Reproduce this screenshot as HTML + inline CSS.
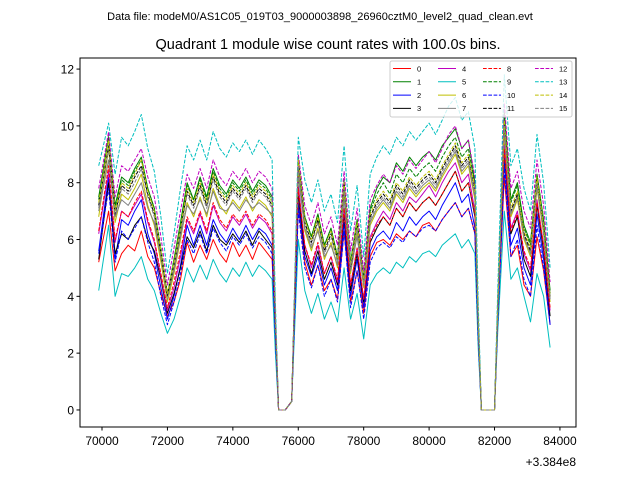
<!DOCTYPE html>
<html><head><meta charset="utf-8"><style>
html,body{margin:0;padding:0;background:#fff;}
svg{display:block;font-family:"Liberation Sans","DejaVu Sans",sans-serif;}
</style></head><body>
<svg id="chart" width="640" height="480" viewBox="0 0 640 480">
<rect width="640" height="480" fill="#fff"/>
<text x="320" y="20" font-size="11" text-anchor="middle">Data file: modeM0/AS1C05_019T03_9000003898_26960cztM0_level2_quad_clean.evt</text>
<text x="328" y="49" font-size="14.5" text-anchor="middle">Quadrant 1 module wise count rates with 100.0s bins.</text>
<g id="plot"></g>
<g id="axes"></g>
<g id="legend"></g>
</svg>
<script>
const times=[69900,70200,70400,70600,70800,71000,71200,71400,71600,71800,72000,72200,72400,72600,72800,73000,73200,73400,73600,73800,74000,74200,74400,74600,74800,75000,75200,75300,75400,75600,75800,76000,76200,76400,76600,76800,77000,77200,77400,77600,77800,78000,78200,78400,78600,78800,79000,79200,79400,79600,79800,80000,80200,80400,80600,80800,81000,81200,81400,81500,81600,81800,82000,82100,82300,82500,82700,82900,83100,83300,83500,83700];
const s0=[5.2,7.0,4.9,5.5,5.8,5.6,6.3,5.4,5.0,4.1,3.3,3.8,4.6,5.9,5.2,5.8,5.3,6.0,5.5,5.2,5.9,5.4,5.8,5.3,5.9,5.6,5.3,2.5,0,0,0.3,7.2,5.2,4.4,5.1,4.2,4.6,3.9,6.3,3.8,4.9,3.4,5.4,5.9,6.0,5.8,6.2,6.0,6.3,6.1,6.5,6.6,6.3,6.7,7.0,7.3,6.8,7.1,6.2,2.5,0,0,0,3.2,8.2,5.4,5.8,4.4,4.0,6.1,4.9,3.0];
const s1=[7.5,9.6,7.2,8.2,8.0,8.5,8.9,7.8,7.1,5.6,4.0,5.3,6.6,8.0,7.4,8.2,7.5,8.5,7.9,7.6,8.1,7.8,8.2,7.7,8.1,7.9,7.5,3.2,0,0,0.3,8.8,6.8,6.1,6.9,5.8,6.4,5.4,8.0,5.2,6.7,4.6,7.1,7.8,8.2,8.0,8.7,8.4,8.9,8.6,8.9,9.1,8.8,9.3,9.6,9.9,9.2,9.5,8.0,3.2,0,0,0,3.8,10.5,7.4,8.0,6.5,5.9,8.3,6.7,4.2];
const s2=[5.6,8.2,5.3,6.7,6.5,7.0,7.4,6.2,5.5,4.3,3.2,4.0,5.1,6.5,5.8,6.5,5.8,6.7,6.2,5.9,6.4,6.0,6.5,6.0,6.4,6.2,5.8,2.7,0,0,0.3,7.3,5.4,4.7,5.4,4.4,5.0,4.2,6.6,4.0,5.3,3.6,5.6,6.1,6.3,6.0,6.6,6.3,6.8,6.5,6.8,7.0,6.7,7.2,7.6,8.0,7.3,7.6,6.4,2.7,0,0,0,3.3,8.8,5.8,6.4,5.0,4.4,6.9,5.3,3.0];
const s3=[5.3,8.0,5.5,6.2,6.0,6.5,6.8,6.0,5.6,4.6,3.4,4.1,5.0,6.1,5.7,6.3,5.6,6.5,6.0,5.8,6.2,5.9,6.3,5.8,6.3,6.0,5.7,2.7,0,0,0.3,7.6,5.6,4.8,5.6,4.6,5.2,4.4,6.9,4.2,5.5,3.8,5.9,6.4,6.8,6.5,7.1,6.8,7.3,7.0,7.3,7.5,7.2,7.6,8.0,8.4,7.7,8.0,6.8,2.8,0,0,0,3.4,9.2,6.2,6.8,5.3,4.7,7.2,5.6,3.3];
const s4=[6.2,8.4,5.9,7.0,6.8,7.2,7.6,6.6,5.9,4.7,3.5,4.3,5.4,6.7,6.2,6.9,6.2,7.2,6.6,6.3,6.8,6.5,6.9,6.4,6.8,6.6,6.2,2.8,0,0,0.3,7.9,5.8,5.0,5.8,4.8,5.4,4.5,7.1,4.4,5.7,3.9,6.1,6.6,7.0,6.7,7.3,7.0,7.5,7.3,7.6,7.9,7.5,8.0,8.4,8.7,8.0,8.3,7.0,2.9,0,0,0,3.4,9.4,6.4,7.0,5.5,4.9,7.4,5.8,3.5];
const s5=[4.2,6.5,4.0,4.8,4.7,5.0,5.4,4.6,4.2,3.4,2.7,3.2,4.0,5.0,4.5,5.1,4.6,5.3,4.8,4.5,5.0,4.7,5.2,4.7,5.1,4.9,4.6,2.0,0,0,0.3,6.0,4.2,3.4,4.1,3.2,3.8,3.1,5.0,3.2,4.1,2.5,4.4,4.8,5.0,4.8,5.2,5.0,5.4,5.2,5.5,5.6,5.4,5.8,6.0,6.2,5.7,6.0,5.5,2.2,0,0,0,2.8,7.0,4.6,5.0,4.0,3.1,4.8,4.0,2.2];
const s6=[6.8,9.2,6.6,7.6,7.4,7.8,8.3,7.2,6.5,5.2,3.8,4.8,6.0,7.3,6.8,7.5,6.8,7.8,7.2,6.9,7.4,7.1,7.5,7.0,7.4,7.2,6.8,3.0,0,0,0.3,8.4,6.3,5.6,6.4,5.3,5.9,5.0,7.6,4.8,6.2,4.3,6.5,7.0,7.3,7.0,7.6,7.3,7.8,7.5,7.8,8.0,7.7,8.2,8.6,9.0,8.3,8.6,7.4,3.0,0,0,0,3.5,9.8,6.8,7.4,6.0,5.4,7.8,6.2,3.8];
const s7=[7.0,8.8,6.8,7.4,7.2,7.6,8.0,7.1,6.6,5.4,4.0,4.9,6.1,7.2,6.9,7.4,6.9,7.7,7.1,7.0,7.3,7.0,7.4,7.1,7.3,7.1,6.9,3.0,0,0,0.3,8.2,6.4,5.7,6.3,5.4,5.8,5.1,7.4,4.9,6.1,4.4,6.6,7.1,7.4,7.1,7.7,7.4,7.9,7.6,7.9,8.1,7.8,8.3,8.7,9.1,8.4,8.7,7.5,3.0,0,0,0,3.5,10.0,6.9,7.5,6.1,5.5,7.9,6.3,3.9];
const s8=[6.3,8.6,6.0,7.0,6.8,7.3,7.7,6.7,6.0,4.8,3.6,4.5,5.6,6.8,6.3,7.0,6.3,7.3,6.7,6.4,6.9,6.6,7.0,6.5,6.9,6.7,6.3,2.8,0,0,0.3,7.8,5.8,5.1,5.9,4.8,5.4,4.6,7.1,4.4,5.7,3.9,6.0,6.5,6.8,6.5,7.1,6.8,7.3,7.0,7.3,7.5,7.2,7.6,8.0,8.4,7.7,8.0,6.9,2.8,0,0,0,3.3,9.2,6.3,6.9,5.6,5.0,7.3,5.8,3.6];
const s9=[7.4,9.7,7.1,8.1,7.9,8.4,8.8,7.8,7.1,5.7,4.1,5.3,6.5,7.9,7.4,8.1,7.4,8.4,7.8,7.5,8.0,7.7,8.1,7.6,8.0,7.8,7.4,3.2,0,0,0.3,8.9,6.8,6.1,6.9,5.8,6.4,5.4,8.1,5.2,6.7,4.6,7.0,7.6,8.0,7.6,8.3,8.0,8.5,8.2,8.5,8.7,8.4,8.9,9.3,9.6,8.9,9.2,7.9,3.2,0,0,0,3.7,10.3,7.3,7.9,6.4,5.8,8.3,6.6,4.1];
const s10=[5.5,7.8,5.2,6.3,6.0,6.4,6.8,5.9,5.2,4.0,3.0,3.8,4.8,6.0,5.5,6.2,5.5,6.4,5.9,5.6,6.1,5.8,6.2,5.7,6.1,5.9,5.5,2.5,0,0,0.3,7.0,5.0,4.3,5.1,4.0,4.6,3.8,6.3,3.6,4.9,3.2,5.2,5.7,5.9,5.7,6.1,5.9,6.3,6.1,6.4,6.5,6.3,6.7,7.0,7.3,6.8,7.1,6.2,2.5,0,0,0,3.1,8.5,5.4,6.0,4.6,4.0,6.5,5.0,3.0];
const s11=[7.2,9.3,6.9,7.9,7.7,8.2,8.6,7.6,6.9,5.5,4.0,5.1,6.3,7.7,7.2,7.9,7.2,8.2,7.6,7.3,7.8,7.5,7.9,7.4,7.8,7.6,7.2,3.1,0,0,0.3,8.7,6.6,5.9,6.7,5.6,6.2,5.3,7.9,5.0,6.5,4.5,6.8,7.3,7.6,7.3,7.9,7.6,8.1,7.8,8.1,8.3,8.0,8.5,8.9,9.3,8.6,8.9,7.7,3.1,0,0,0,3.6,10.1,7.0,7.6,6.2,5.6,8.1,6.4,4.0];
const s12=[7.8,9.8,7.5,8.6,8.4,8.8,9.2,8.2,7.5,6.1,4.4,5.7,7.0,8.3,7.8,8.5,7.8,8.8,8.2,7.9,8.4,8.1,8.5,8.0,8.4,8.2,7.8,3.4,0,0,0.3,9.0,7.2,6.5,7.3,6.2,6.8,5.8,8.4,5.6,7.1,4.9,7.4,7.9,8.3,8.0,8.6,8.3,8.8,8.5,8.8,9.1,8.7,9.2,9.7,10.0,9.2,9.5,8.2,3.4,0,0,0,3.9,10.8,7.8,8.4,7.0,6.4,8.8,7.2,4.5];
const s13=[8.6,10.1,8.3,9.6,9.3,9.8,10.4,9.2,8.4,6.8,4.8,6.2,7.8,9.3,8.8,9.5,8.8,9.8,9.2,8.9,9.4,9.1,9.5,9.0,9.5,9.2,8.8,3.8,0,0,0.3,9.6,8.1,7.3,8.1,7.0,7.6,6.6,9.3,6.3,7.9,5.4,8.3,8.9,9.3,9.0,9.6,9.3,9.8,9.5,9.8,10.1,9.7,10.2,10.7,11.0,10.2,10.5,9.2,3.8,0,0,0,4.3,11.8,8.6,9.2,7.8,7.0,9.7,8.0,5.0];
const s14=[7.3,9.5,7.0,8.0,7.8,8.3,8.8,7.7,7.0,5.6,4.1,5.2,6.4,7.8,7.3,8.0,7.3,8.3,7.7,7.4,7.9,7.6,8.0,7.5,7.9,7.7,7.3,3.2,0,0,0.3,8.8,6.7,6.0,6.8,5.7,6.3,5.3,8.0,5.1,6.6,4.5,6.9,7.4,7.7,7.4,8.0,7.7,8.2,7.9,8.2,8.4,8.1,8.6,9.0,9.4,8.7,9.0,7.8,3.1,0,0,0,3.6,10.2,7.1,7.7,6.3,5.7,8.2,6.5,4.0];
const s15=[7.1,9.2,6.8,7.8,7.6,8.0,8.5,7.5,6.8,5.4,3.9,5.0,6.2,7.6,7.1,7.8,7.1,8.1,7.5,7.2,7.7,7.4,7.8,7.3,7.7,7.5,7.1,3.1,0,0,0.3,8.6,6.5,5.8,6.6,5.5,6.1,5.2,7.8,5.0,6.4,4.4,6.7,7.2,7.5,7.2,7.8,7.5,8.0,7.7,8.0,8.2,7.9,8.4,8.8,9.2,8.5,8.8,7.6,3.0,0,0,0,3.5,10.0,6.9,7.5,6.1,5.5,8.0,6.3,3.9];
const seriesNames=["0","1","2","3","4","5","6","7","8","9","10","11","12","13","14","15"];
const xTicks=[70000,72000,74000,76000,78000,80000,82000,84000];
const yTicks=[0,2,4,6,8,10,12];

const NS="http://www.w3.org/2000/svg";
const series=[s0,s1,s2,s3,s4,s5,s6,s7,s8,s9,s10,s11,s12,s13,s14,s15];
const colors=["#ff0000","#008000","#0000ff","#000000","#bf00bf","#00bfbf","#bfbf00","#808080","#ff0000","#008000","#0000ff","#000000","#bf00bf","#00bfbf","#bfbf00","#808080"];
const L=80,R=576,T=58,B=427;
const xMin=69327,xMax=84491,yMin=-0.6,yMax=12.39;
function xs(v){return L+(v-xMin)/(xMax-xMin)*(R-L);}
function ys(v){return B-(v-yMin)/(yMax-yMin)*(B-T);}
function mk(tag,attrs,parent){const e=document.createElementNS(NS,tag);for(const k in attrs)e.setAttribute(k,attrs[k]);parent.appendChild(e);return e;}

const plot=document.getElementById('plot');
series.forEach((s,i)=>{
  const n=Math.min(s.length,times.length);
  let d="";
  for(let j=0;j<n;j++){d+=(j?"L":"M")+xs(times[j]).toFixed(1)+" "+ys(s[j]).toFixed(1);}
  const p=mk('path',{d:d,fill:'none',stroke:colors[i],'stroke-width':1,'stroke-linejoin':'round'},plot);
  if(i>=8)p.setAttribute('stroke-dasharray','3.7,1.6');
  
  
});

const axes=document.getElementById('axes');
const frame=mk('rect',{x:L,y:T,width:R-L,height:B-T,fill:'none',stroke:'#000','stroke-width':1},axes);


xTicks.forEach(v=>{
  const x=xs(v);
  const t=mk('line',{x1:x,x2:x,y1:B,y2:B+3.5,stroke:'#000'},axes);
  
  
  const tx=mk('text',{x:x,y:B+18,'font-size':12,'text-anchor':'middle'},axes);
  tx.textContent=String(v);
  
  
});
yTicks.forEach(v=>{
  const y=ys(v);
  const t=mk('line',{x1:L-3.5,x2:L,y1:y,y2:y,stroke:'#000'},axes);
  
  
  const tx=mk('text',{x:L-6,y:y+4.5,'font-size':12,'text-anchor':'end'},axes);
  tx.textContent=String(v);
  
  
});
const off=mk('text',{x:R,y:466,'font-size':12,'text-anchor':'end'},axes);
off.textContent="+3.384e8";



const leg=document.getElementById('legend');
const box=mk('rect',{x:390,y:61,width:182,height:56,rx:2,fill:'#fff','fill-opacity':0.8,stroke:'#ccc','stroke-width':1},leg);


const colX=[393,438,483,535];
seriesNames.forEach((nm,i)=>{
  const c=Math.floor(i/4),r=i%4;
  const x=colX[c],y=68.5+r*13.3;
  const ln=mk('line',{x1:x,x2:x+18,y1:y,y2:y,stroke:colors[i],'stroke-width':1},leg);
  if(i>=8)ln.setAttribute('stroke-dasharray','3.7,1.6');
  
  
  const tx=mk('text',{x:x+24,y:y+2.8,'font-size':7.5},leg);
  tx.textContent=nm;
  
  
});
</script>
</body></html>
